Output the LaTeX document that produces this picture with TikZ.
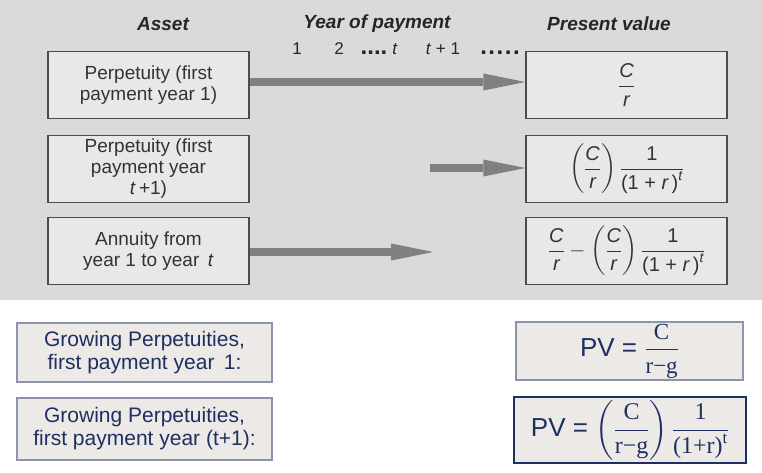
\documentclass[tikz,border=0pt]{standalone}
\usepackage{amsmath}
\usepackage{fontspec}
\setmainfont{Liberation Sans}
\newfontfamily\srf{Liberation Serif}
\newcommand\sr[1]{\text{\srf #1}}
\newcommand\sv[1]{\text{#1}}
\newcommand\bigdots[1]{{\fontsize{24}{24}\selectfont\bfseries#1}}
\usetikzlibrary{arrows.meta}
\definecolor{bggray}{RGB}{218,218,218}
\definecolor{boxgray}{RGB}{232,232,232}
\definecolor{panel}{RGB}{236,233,230}
\definecolor{panelline}{RGB}{140,148,170}
\definecolor{navy}{RGB}{30,48,98}
\begin{document}
\begin{tikzpicture}[x=1pt,y=-1pt,
    assetbox/.style={draw=black!70,line width=1.2pt,fill=boxgray,minimum width=201pt,
        minimum height=67pt,align=center,text=black!80,font=\fontsize{19}{21}\selectfont},
    pvtop/.style={assetbox,font=\fontsize{20}{22}\selectfont},
    head/.style={text=black!85,font=\fontsize{19}{21}\selectfont\bfseries\itshape},
    numlbl/.style={text=black!85,font=\fontsize{17}{20}\selectfont,inner sep=0pt},
    flow/.style={draw=black!50,line width=8pt,-{Triangle[length=42pt,width=17pt,line width=0pt 0]}},
    growbox/.style={draw=panelline,line width=1.4pt,fill=panel,text=navy,align=center,
        minimum width=255pt,font=\fontsize{21}{23}\selectfont},
    pvbox/.style={draw=panelline,line width=1.4pt,fill=panel,text=navy,inner sep=2pt,
        font=\fontsize{26}{28}\selectfont}]
    \useasboundingbox (0,0) rectangle (762,473);
    \fill[bggray] (0,0) rectangle (762,300);

    \node[head] (h1) at (163,24) {Asset};
    \node[head] (h2) at (377,24) {Year of payment};
    \node[head] (h3) at (609,24) {Present value};
    \foreach \xx/\lbl [count=\i] in {297/1, 339/2, 374/{\bigdots{....}}, 395/\textit{t},
        443/{\textit{t} + 1}, 500/{\bigdots{.\kern1.5pt.\kern1.5pt.\kern1.5pt.\kern1.5pt.}}}
        \node[numlbl,anchor=base] (n\i) at (\xx,55) {\lbl};

    \node[assetbox] (a1) at (148.5,85) {Perpetuity (first\\payment year 1)};
    \node[assetbox] (a2) at (148.5,169) {Perpetuity (first\\payment year\\\textit{t}\,+1)};
    \node[assetbox] (a3) at (148.5,251) {Annuity from\\year 1 to year \,\textit{t}};

    \node[pvtop] (v1) at (626.5,85)
        {$\dfrac{\textit{C}}{\textit{r}}$};
    \node[pvtop] (v2) at (626.5,169)
        {$\left(\dfrac{\textit{C}}{\textit{r}}\right)\dfrac{\sv{1}}{\sv{(1 + }\textit{r}\,\sv{)}^{\textit{t}}}$};
    \node[pvtop] (v3) at (626.5,251)
        {$\dfrac{\textit{C}}{\textit{r}}-\left(\dfrac{\textit{C}}{\textit{r}}\right)\dfrac{\sv{1}}{\sv{(1 + }\textit{r}\,\sv{)}^{\textit{t}}}$};

    \coordinate (s2) at (430,168);
    \coordinate (e3) at (433,252);
    \draw[flow] ([yshift=3pt]a1.east) -- ([yshift=3pt]v1.west);
    \draw[flow] (s2) -- (v2.west |- s2);
    \draw[flow] (a3.east |- e3) -- (e3);

    \node[growbox,minimum height=59pt] (g1) at (144.5,352.5) {Growing Perpetuities,\\first payment year \,1:};
    \node[growbox,minimum height=62pt] (g2) at (144.5,429) {Growing Perpetuities,\\first payment year (t+1):};
    \node[pvbox,minimum width=227pt,minimum height=56pt] (f1) at (629.5,351)
        {PV = {\fontsize{23}{25}\selectfont$\dfrac{\sr{C}}{\sr{r−g}}$}};
    \node[pvbox,draw=navy,minimum width=232pt,minimum height=66pt] (f2) at (630,430)
        {PV = {\fontsize{24}{26}\selectfont$\left(\dfrac{\sr{C}}{\sr{r−g}}\right)\dfrac{\sr{1}}{\sr{(1+r)}^{\sr{t}}}$}};
\end{tikzpicture}
\end{document}
